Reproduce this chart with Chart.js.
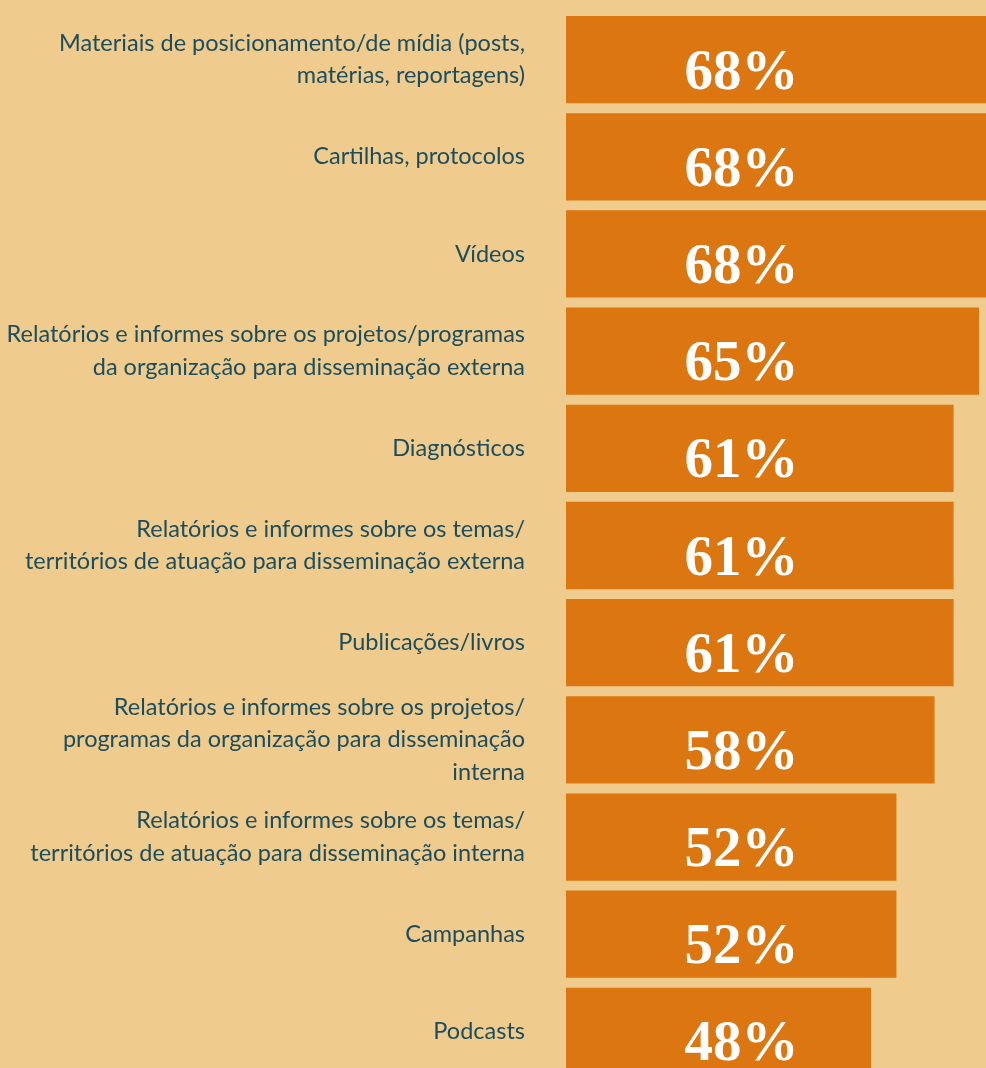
<!DOCTYPE html>
<html>
<head>
<meta charset="utf-8">
<script src="https://cdn.jsdelivr.net/npm/chart.js@4.4.1/dist/chart.umd.min.js"></script>
<style>
  html, body { margin: 0; padding: 0; background: #EFCC8D; overflow: hidden; }
  .wrap { position: relative; width: 986px; height: 1081px; }
</style>
</head>
<body>
<div class="wrap"><canvas id="chartMidia"></canvas></div>
<script>
// categorias (quebradas em linhas como no original)
const categorias = [
  ['Materiais de posicionamento/de mídia (posts,', 'matérias, reportagens)'],
  'Cartilhas, protocolos',
  'Vídeos',
  ['Relatórios e informes sobre os projetos/programas', 'da organização para disseminação externa'],
  'Diagnósticos',
  ['Relatórios e informes sobre os temas/', 'territórios de atuação para disseminação externa'],
  'Publicações/livros',
  ['Relatórios e informes sobre os projetos/', 'programas da organização para disseminação', 'interna'],
  ['Relatórios e informes sobre os temas/', 'territórios de atuação para disseminação interna'],
  'Campanhas',
  'Podcasts',
];
const percentuais = [68, 68, 68, 65, 61, 61, 61, 58, 52, 52, 48];

const corBarra = '#DC7610';
const corTexto = '#1B4D5E';

// rótulos de valor em branco, numa coluna fixa dentro da barra
const rotulosValor = {
  id: 'rotulosValor',
  afterDatasetsDraw(chart) {
    const { ctx, chartArea } = chart;
    const meta = chart.getDatasetMeta(0);
    ctx.save();
    ctx.fillStyle = '#FFFFFF';
    ctx.font = 'bold 57px "Liberation Serif", "Times New Roman", serif';
    ctx.textAlign = 'center';
    ctx.textBaseline = 'alphabetic';
    meta.data.forEach((bar, i) => {
      ctx.fillText(`${percentuais[i]}%`, chartArea.left + 175.5, bar.y + 29);
    });
    ctx.restore();
  },
};

new Chart(document.getElementById('chartMidia'), {
  type: 'bar',
  data: {
    labels: categorias,
    datasets: [
      {
        data: percentuais,
        backgroundColor: corBarra,
        borderWidth: 0,
        categoryPercentage: 1,
        barPercentage: 0.898,
      },
    ],
  },
  options: {
    indexAxis: 'y',
    responsive: true,
    maintainAspectRatio: false,
    animation: false,
    layout: { padding: { top: 11, bottom: 1, left: 0, right: 0 } },
    plugins: {
      legend: { display: false },
      tooltip: { enabled: false },
    },
    scales: {
      x: {
        display: false,
        min: 0,
        max: 66.1,
      },
      y: {
        grid: { display: false },
        border: { display: false },
        ticks: {
          autoSkip: false,
          color: corTexto,
          padding: 33,
          font: { family: 'Lato, "Open Sans", sans-serif', size: 23.5, lineHeight: 1.38 },
        },
        afterFit(scale) {
          scale.width = 566;
          scale.paddingTop = 0;
          scale.paddingBottom = 0;
        },
      },
    },
  },
  plugins: [rotulosValor],
});
</script>
</body>
</html>
